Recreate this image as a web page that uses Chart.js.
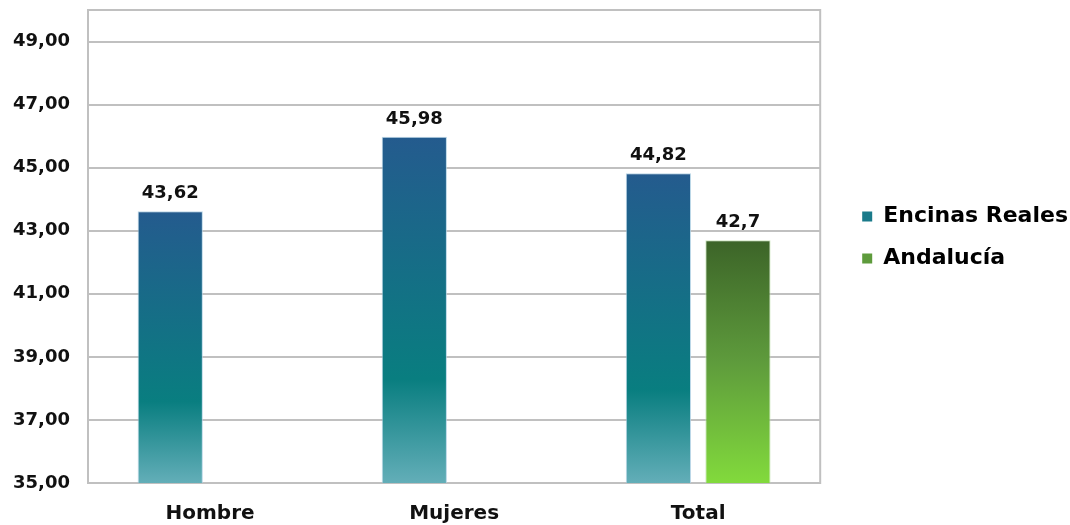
<!DOCTYPE html>
<html>
<head>
<meta charset="utf-8">
<script src="https://cdn.jsdelivr.net/npm/chart.js@4"></script>
<style>
  html, body { margin: 0; padding: 0; background: #fff; }
  #wrap { width: 1070px; height: 525px; position: relative; }
</style>
</head>
<body>
<div id="wrap"><canvas id="myChart"></canvas></div>
<script>
// datos
const categorias = ['Hombre', 'Mujeres', 'Total'];
const encinasReales = [43.62, 45.98, 44.82];
const andalucia = [null, null, 42.7];
const etiquetasY = [35, 37, 39, 41, 43, 45, 47, 49];

const FUENTE = "'DejaVu Sans', Arial, sans-serif";

// degradado vertical para cada barra (arriba -> base)
function degradado(context, paradas, solido) {
  const chart = context.chart;
  if (!chart.chartArea || context.raw == null) return solido;
  const y = chart.scales.y;
  const arriba = y.getPixelForValue(context.raw);
  const abajo = y.getPixelForValue(y.min);
  const g = chart.ctx.createLinearGradient(0, arriba, 0, abajo);
  paradas.forEach(p => g.addColorStop(p[0], p[1]));
  return g;
}

const coma = v => String(v).replace('.', ',');

// valores encima de las barras
const etiquetasBarras = {
  id: 'etiquetasBarras',
  afterDatasetsDraw(chart) {
    const ctx = chart.ctx;
    ctx.save();
    ctx.font = 'bold 18px ' + FUENTE;
    ctx.fillStyle = '#111';
    ctx.textAlign = 'center';
    ctx.textBaseline = 'alphabetic';
    chart.data.datasets.forEach((ds, i) => {
      chart.getDatasetMeta(i).data.forEach((bar, j) => {
        if (ds.data[j] == null) return;
        ctx.fillText(coma(ds.data[j]), bar.x, bar.y - 13);
      });
    });
    ctx.restore();
  }
};

// marco del area de dibujo y posicion de la leyenda
const marco = {
  id: 'marco',
  afterLayout(chart) {
    const l = chart.legend;
    l.left += 22;
    l.right += 22;
    l.top -= 30;
    l.bottom -= 30;
  },
  beforeDatasetsDraw(chart) {
    const a = chart.chartArea, ctx = chart.ctx;
    ctx.save();
    ctx.strokeStyle = '#c0c0c0';
    ctx.lineWidth = 2;
    ctx.strokeRect(a.left, a.top, a.right - a.left, a.bottom - a.top);
    ctx.restore();
  }
};

const ctx = document.getElementById('myChart');

const myChart = new Chart(ctx, {
  type: 'bar',
  data: {
    labels: categorias,
    datasets: [{
      label: 'Encinas Reales',
      data: encinasReales,
      backgroundColor: c => degradado(c, [[0, '#245B8E'], [0.7, '#097E80'], [1, '#63AEB8']], '#1A7A8A'),
      borderColor: 'rgba(170,205,225,0.8)',
      borderWidth: 1
    }, {
      label: 'Andalucía',
      data: andalucia,
      backgroundColor: c => degradado(c, [[0, '#3C6428'], [0.5, '#5E9B3C'], [1, '#82DA3C']], '#5E9B3C'),
      borderColor: 'rgba(190,225,170,0.8)',
      borderWidth: 1
    }]
  },
  options: {
    responsive: true,
    maintainAspectRatio: false,
    animation: false,
    categoryPercentage: 0.652,
    barPercentage: 0.82,
    layout: { padding: { top: 10, left: 12, right: 14, bottom: 0 } },
    plugins: {
      tooltip: { enabled: false },
      legend: {
        position: 'right',
        labels: {
          boxWidth: 10,
          boxHeight: 10,
          padding: 20,
          color: '#111',
          font: { family: FUENTE, size: 22, weight: 'bold' },
          generateLabels(chart) {
            const colores = ['#1A7A8A', '#5E9B3C'];
            return chart.data.datasets.map((ds, i) => ({
              text: ds.label,
              fillStyle: colores[i],
              strokeStyle: colores[i],
              lineWidth: 0,
              datasetIndex: i
            }));
          }
        }
      }
    },
    scales: {
      x: {
        grid: { display: false, drawTicks: false },
        border: { display: false },
        afterFit(scale) {
          scale.height = 42;
          scale.paddingLeft = 0;
          scale.paddingRight = 0;
        },
        ticks: {
          padding: 19,
          color: '#111',
          font: { family: FUENTE, size: 20, weight: 'bold' }
        }
      },
      y: {
        min: 35,
        max: 50,
        afterBuildTicks(scale) {
          scale.ticks = etiquetasY.map(v => ({ value: v }));
        },
        afterFit(scale) {
          scale.width = 76;
          scale.paddingTop = 0;
          scale.paddingBottom = 0;
        },
        grid: { color: '#c0c0c0', lineWidth: 2, drawTicks: false },
        border: { display: false },
        ticks: {
          padding: 18,
          color: '#111',
          font: { family: FUENTE, size: 18, weight: 'bold' },
          callback: v => v.toFixed(2).replace('.', ',')
        }
      }
    }
  },
  plugins: [etiquetasBarras, marco]
});
</script>
</body>
</html>
